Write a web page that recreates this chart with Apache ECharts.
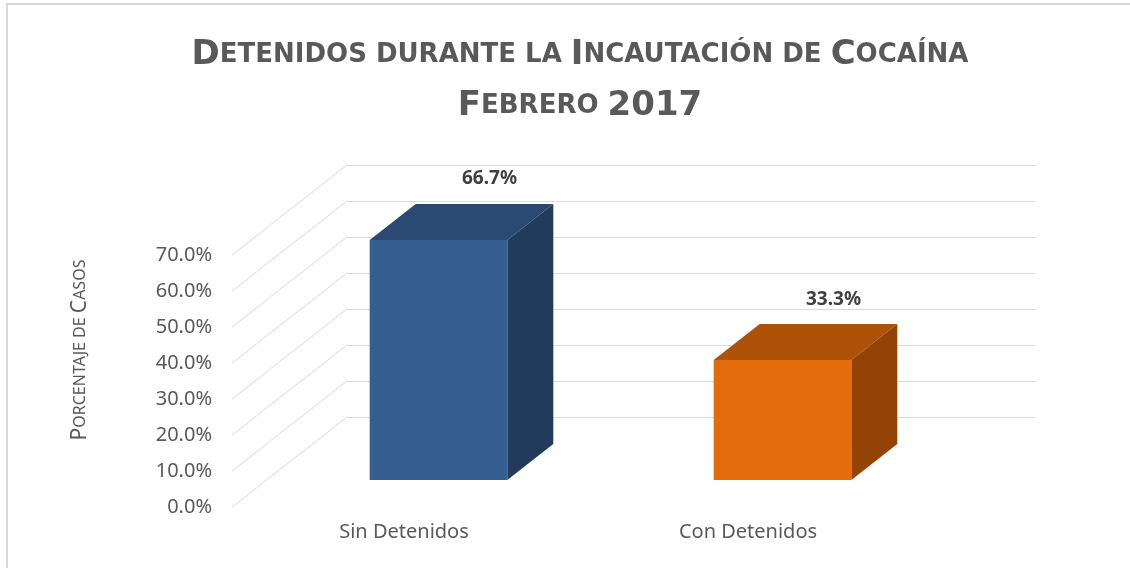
<!DOCTYPE html>
<html>
<head>
<meta charset="utf-8">
<script src="https://cdn.jsdelivr.net/npm/echarts@6/dist/echarts.min.js"></script>
<style>
  html, body { margin: 0; padding: 0; background: #ffffff; }
  #chart { width: 1130px; height: 568px; }
</style>
</head>
<body>
<div id="chart"></div>
<script>
const categories = ["Sin Detenidos", "Con Detenidos"];
const values = [66.7, 33.3];
const yTicks = [0, 10, 20, 30, 40, 50, 60, 70];
const frontColors = ["#365f91", "#e46c0a"];
const topColors = ["#2b4a73", "#ae5207"];
const sideColors = ["#223b5c", "#934305"];

// 3D projection: offset from back wall to front plane, in pixels
const DX = -115;
const DY = 90;
const BAR_BACK = 0.3;   // depth fraction of bar's back face
const BAR_FRONT = 0.7;  // depth fraction of bar's front face
const BAR_WIDTH = 0.4;  // fraction of category band

// Excel-like small caps as rich text
function smallCaps(str, big, small) {
    let out = "";
    let run = "";
    let runStyle = null;
    for (const ch of str) {
        let st;
        if (ch === " ") st = runStyle || small;
        else if (ch === ch.toUpperCase() && ch !== ch.toLowerCase()) st = big;
        else if (/[0-9]/.test(ch)) st = big;
        else st = small;
        if (st !== runStyle && run) {
            out += "{" + runStyle + "|" + run + "}";
            run = "";
        }
        runStyle = st;
        run += ch.toUpperCase();
    }
    if (run) out += "{" + runStyle + "|" + run + "}";
    return out;
}

const chart = echarts.init(document.getElementById("chart"));

chart.setOption({
    animation: false,
    backgroundColor: "#ffffff",
    title: {
        left: 575,
        textAlign: "center",
        top: 25,
        text: smallCaps("Detenidos durante la Incautación de Cocaína", "b", "s") + "\n" +
              smallCaps("Febrero 2017", "b", "s"),
        textStyle: {
            rich: {
                b: {fontFamily: "DejaVu Sans", fontWeight: "bold", fontSize: 34, color: "#595959", lineHeight: 51},
                s: {fontFamily: "DejaVu Sans", fontWeight: "bold", fontSize: 26, color: "#595959", lineHeight: 51}
            }
        }
    },
    graphic: [
        {
            type: "rect",
            shape: {x: 7, y: 4, width: 1300, height: 800},
            style: {fill: "none", stroke: "#d9d9d9", lineWidth: 2},
            silent: true
        },
        {
            // axis title, placed like Excel's (not centred on the axis)
            type: "text",
            x: 80, y: 350,
            rotation: Math.PI / 2,
            style: {
                text: smallCaps("Porcentaje de Casos", "b", "s"),
                align: "center", verticalAlign: "middle",
                rich: {
                    b: {fontFamily: "Noto Sans", fontSize: 21, fill: "#595959"},
                    s: {fontFamily: "Noto Sans", fontSize: 16, fill: "#595959"}
                }
            },
            silent: true
        }
    ],
    grid: [
        // back wall
        {left: 347, right: 95, top: 165, bottom: 151},
        // front plane
        {left: 232, right: 210, top: 255, bottom: 61}
    ],
    xAxis: [
        {
            gridIndex: 0, type: "category", data: categories,
            axisLine: {show: false}, axisTick: {show: false}, axisLabel: {show: false}
        },
        {
            gridIndex: 1, type: "category", data: categories,
            axisLine: {show: false}, axisTick: {show: false},
            axisLabel: {color: "#595959", fontFamily: "Noto Sans", fontSize: 20, margin: 15}
        }
    ],
    yAxis: [
        {
            gridIndex: 0, type: "value", min: 0, max: 70, interval: 10,
            axisLabel: {show: false},
            splitLine: {lineStyle: {color: "#d9d9d9", width: 1}}
        },
        {
            gridIndex: 1, type: "value", min: 0, max: 70, interval: 10,
            axisLine: {show: false}, axisTick: {show: false},
            splitLine: {show: false},
            axisLabel: {
                color: "#595959", fontFamily: "Noto Sans", fontSize: 20, margin: 20,
                formatter: v => v.toFixed(1) + "%"
            }
        }
    ],
    series: [
        {
            // slanted side-wall gridlines
            type: "custom",
            xAxisIndex: 0, yAxisIndex: 0,
            data: yTicks.map(t => [0, t]),
            silent: true,
            renderItem: (params, api) => {
                const x0 = params.coordSys.x;
                const y0 = api.coord([0, api.value(1)])[1];
                return {
                    type: "line",
                    shape: {x1: x0, y1: y0, x2: x0 + DX, y2: y0 + DY},
                    style: {stroke: "#d9d9d9", lineWidth: 1}
                };
            }
        },
        {
            type: "custom",
            xAxisIndex: 0, yAxisIndex: 0,
            data: categories.map((c, i) => [i, values[i]]),
            renderItem: (params, api) => {
                const i = api.value(0);
                const v = api.value(1);
                const base = api.coord([i, 0]);
                const top = api.coord([i, v]);
                const half = api.size([1, 0])[0] * BAR_WIDTH / 2;
                const fx = base[0] + DX * BAR_FRONT, fdy = DY * BAR_FRONT;
                const bx = base[0] + DX * BAR_BACK, bdy = DY * BAR_BACK;
                const fTop = top[1] + fdy, fBot = base[1] + fdy;
                const bTop = top[1] + bdy, bBot = base[1] + bdy;
                return {
                    type: "group",
                    children: [
                        {
                            type: "polygon",
                            shape: {points: [[fx - half, fTop], [fx + half, fTop], [bx + half, bTop], [bx - half, bTop]]},
                            style: {fill: topColors[i]}
                        },
                        {
                            type: "polygon",
                            shape: {points: [[fx + half, fTop], [bx + half, bTop], [bx + half, bBot], [fx + half, fBot]]},
                            style: {fill: sideColors[i]}
                        },
                        {
                            type: "rect",
                            shape: {x: fx - half, y: fTop, width: half * 2, height: fBot - fTop},
                            style: {fill: frontColors[i]}
                        },
                        {
                            type: "text",
                            x: bx + 5, y: bTop - 25,
                            style: {
                                text: v.toFixed(1) + "%",
                                fill: "#404040",
                                font: "bold 19px 'Noto Sans'",
                                align: "center", verticalAlign: "middle"
                            }
                        }
                    ]
                };
            }
        }
    ]
});
</script>
</body>
</html>
